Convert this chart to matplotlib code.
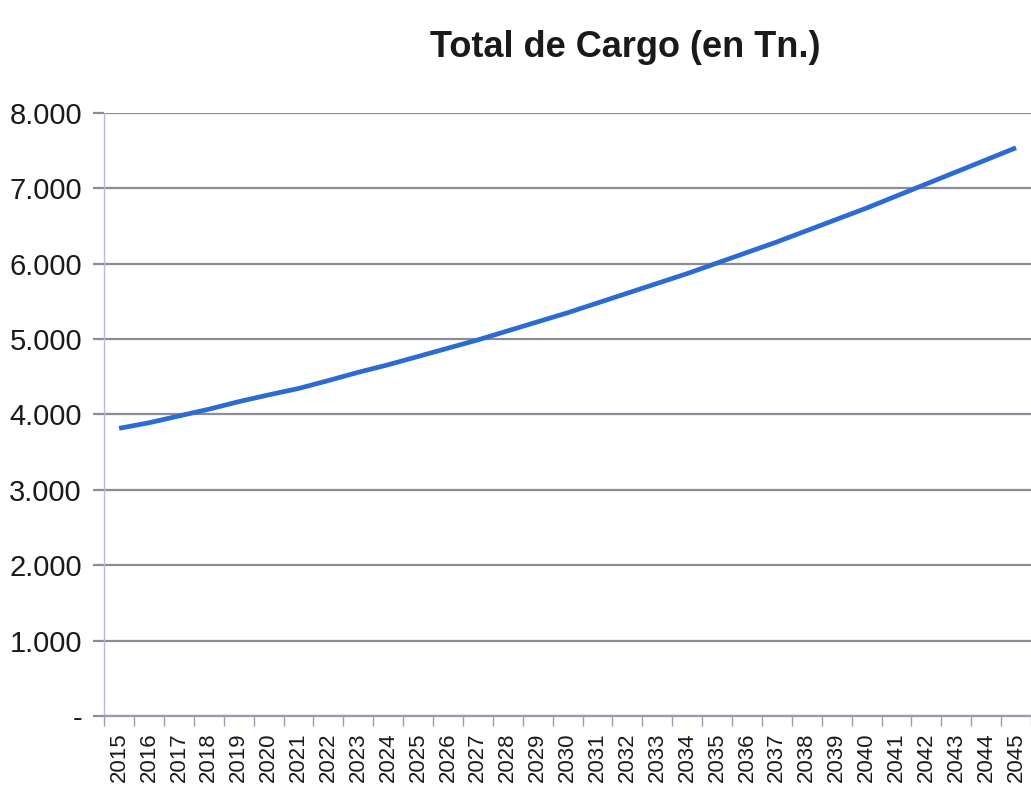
import matplotlib.pyplot as plt
from matplotlib.ticker import FuncFormatter, FixedLocator

# serie anual de carga total (toneladas)
anios = list(range(2015, 2046))
carga = [3816, 3890, 3980, 4070, 4170, 4260, 4345, 4450, 4560, 4660,
         4770, 4880, 4990, 5110, 5230, 5350, 5480, 5610, 5740, 5870,
         6010, 6150, 6290, 6440, 6590, 6740, 6900, 7060, 7220, 7380, 7540]
titulo = 'Total de Cargo (en Tn.)'
yticks = [0, 1000, 2000, 3000, 4000, 5000, 6000, 7000, 8000]


def miles(v, pos):
    # formato con punto de miles, cero como guion
    if v == 0:
        return '-'
    return '{:,.0f}'.format(v).replace(',', '.')


plt.rcParams['font.family'] = ['Liberation Sans', 'DejaVu Sans']

fig = plt.figure(figsize=(10.31, 7.91), dpi=100)
ax = fig.add_axes([0.101, 0.095, 0.899, 0.762])

x = list(range(len(anios)))
ax.plot(x, carga, color='#2c6cd2', lw=3.4, solid_capstyle='butt', zorder=3)

ax.set_xlim(-0.5, len(anios) - 0.5)
ax.set_ylim(0, 8000)
ax.set_yticks(yticks)
ax.yaxis.set_major_formatter(FuncFormatter(miles))
ax.grid(axis='y', color='#8c8c98', lw=1.6)
ax.set_axisbelow(True)

ax.set_xticks(x)
ax.set_xticklabels([str(a) for a in anios], rotation=90)
ax.xaxis.set_minor_locator(FixedLocator([i - 0.5 for i in range(len(anios) + 1)]))
ax.tick_params(axis='x', which='major', length=0, pad=12, labelsize=16, colors='#1a1a1a')
ax.tick_params(axis='x', which='minor', length=7, width=1, color='#9a9ab4')
ax.tick_params(axis='y', length=8, width=1.6, color='#8c8c98', pad=8, labelsize=21, labelcolor='#1a1a1a')

for s in ['top', 'right']:
    ax.spines[s].set_visible(False)
ax.spines['left'].set_color('#b8b8d8')
ax.spines['left'].set_linewidth(1)
ax.spines['bottom'].set_color('#9a9ab4')
ax.spines['bottom'].set_linewidth(1.6)

fig.text(0.606, 0.94, titulo, ha='center', va='center', fontsize=26,
         fontweight='bold', color='#1a1a1a')

fig.savefig('out.png', dpi=100)
